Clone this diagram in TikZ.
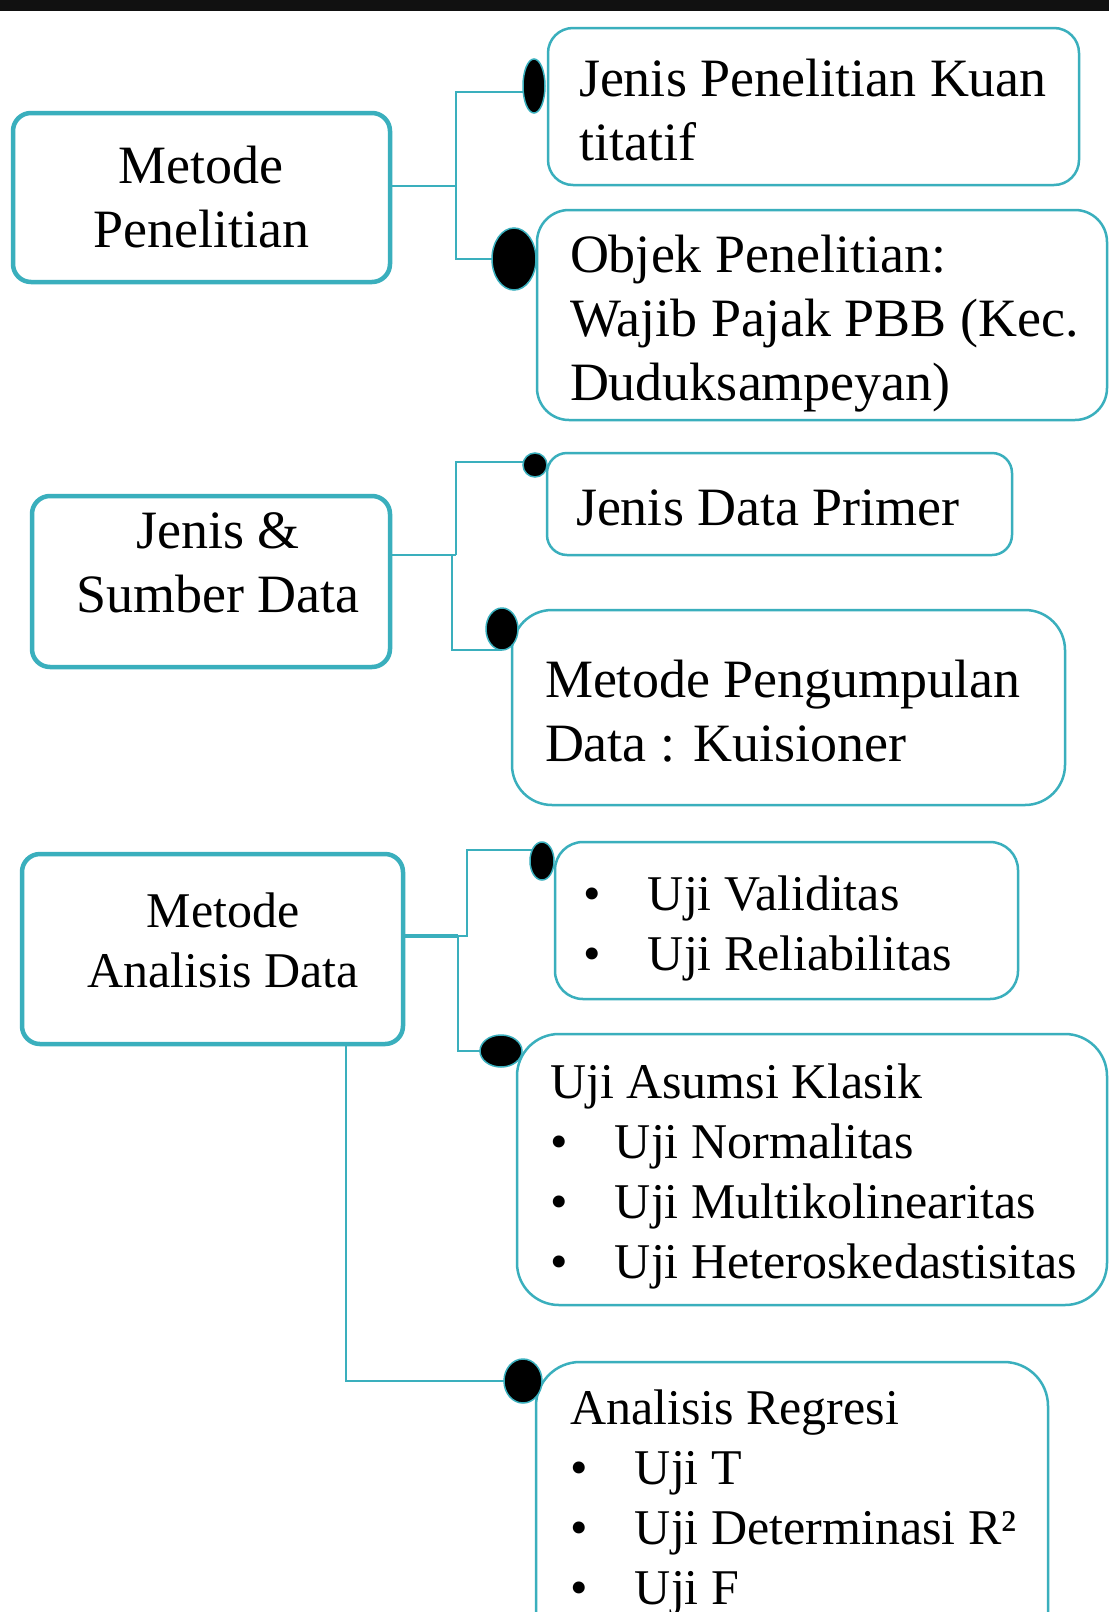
\documentclass[tikz,border=0pt]{standalone}
\usepackage{fontspec}
\setmainfont{Liberation Serif}
\usetikzlibrary{shapes.geometric}
\definecolor{tealline}{RGB}{58,175,189}
\definecolor{topbar}{RGB}{17,17,17}
\pgfdeclarelayer{paper}
\pgfdeclarelayer{bg}
\pgfsetlayers{paper,bg,main}
\newcommand{\mybul}{\makebox[65pt][l]{•}}
\begin{document}
\begin{tikzpicture}[x=1pt,y=-1pt,
  thickbox/.style={draw=tealline, line width=4.5pt, rounded corners=18pt, fill=white, inner sep=0pt, outer sep=0pt},
  thinbox/.style={draw=tealline, line width=2.5pt, fill=white, inner sep=0pt, outer sep=0pt},
  dotnode/.style={ellipse, fill=black, draw=tealline, line width=1.5pt, inner sep=0pt, outer sep=0pt},
  conn/.style={draw=tealline, line width=2.5pt},
  connthick/.style={draw=tealline, line width=4pt},
  txt/.style={inner sep=0pt, outer sep=0pt, anchor=base west},
  ctxt/.style={inner sep=0pt, outer sep=0pt, anchor=base},
  big/.style={font=\fontsize{54}{64}\selectfont},
  small/.style={font=\fontsize{50}{60}\selectfont},
]
\useasboundingbox (0,0) rectangle (1109,1612);
\clip (0,0) rectangle (1109,1612);
\begin{pgfonlayer}{paper}
\fill[white] (0,0) rectangle (1109,1612);
\end{pgfonlayer}
\fill[topbar] (0,0) rectangle (1109,11);

% boxes
\node[thickbox, minimum width=377pt, minimum height=169pt] (b1) at (201.5,197.5) {};
\node[thinbox, rounded corners=25pt, minimum width=531pt, minimum height=157pt] (b2) at (813.5,106.5) {};
\node[thinbox, rounded corners=32pt, minimum width=570pt, minimum height=210pt] (b3) at (822,315) {};
\node[thickbox, minimum width=358pt, minimum height=171pt] (b4) at (211,581.5) {};
\node[thinbox, rounded corners=20pt, minimum width=465pt, minimum height=102pt] (b5) at (779.5,504) {};
\node[thinbox, rounded corners=40pt, minimum width=553pt, minimum height=195pt] (b6) at (788.5,707.5) {};
\node[thickbox, minimum width=381pt, minimum height=190pt] (b7) at (212.5,949) {};
\node[thinbox, rounded corners=28pt, minimum width=463pt, minimum height=157pt] (b8) at (786.5,920.5) {};
\node[thinbox, rounded corners=42pt, minimum width=590pt, minimum height=271pt] (b9) at (812,1169.5) {};
\node[thinbox, rounded corners=44pt, minimum width=512pt, minimum height=298pt] (b10) at (792,1511) {};

% dots
\node[dotnode, minimum width=22pt, minimum height=54pt] (d1) at (534,86) {};
\node[dotnode, minimum width=44pt, minimum height=62pt] (d2) at (514,259) {};
\node[dotnode, minimum width=24pt, minimum height=24pt] (d3) at (535,465) {};
\node[dotnode, minimum width=32pt, minimum height=42pt] (d4) at (502,629) {};
\node[dotnode, minimum width=24pt, minimum height=38pt] (d5) at (542,861) {};
\node[dotnode, minimum width=42pt, minimum height=32pt] (d6) at (501,1051) {};
\node[dotnode, minimum width=38pt, minimum height=44pt] (d7) at (523,1381) {};

% connectors
\begin{pgfonlayer}{bg}
\draw[conn] (b1.east |- 0,186) -- (456,186);
\draw[conn] (d1.center |- 0,92) -| (456,259) -- (d2.center);
\draw[conn] (b4.east |- 0,555) -- (456,555);
\draw[conn] (d3.center |- 0,462) -| (456,555);
\draw[conn] (452,555) |- (d4.center |- 0,650);
\draw[connthick] (b7.east |- 0,936) -- (458,936);
\draw[conn] (458,936) -- (467,936) |- (d5.center |- 0,850);
\draw[conn] (458,936) |- (d6.center);
\draw[conn] (b7.south -| 346,0) |- (d7.center);
\end{pgfonlayer}

% texts
\node[ctxt,big] (t1) at (201,183) {\begin{tabular}[t]{@{}c@{}}Metode\\Penelitian\end{tabular}};
\node[txt,big] (t2) at (579,96) {\begin{tabular}[t]{@{}l@{}}Jenis Penelitian Kuan\\titatif\end{tabular}};
\node[txt,big] (t3) at (570,272) {\begin{tabular}[t]{@{}l@{}}Objek Penelitian:\\Wajib Pajak PBB (Kec.\\Duduksampeyan)\end{tabular}};
\node[ctxt,big] (t4) at (218,548) {\begin{tabular}[t]{@{}c@{}}Jenis \&\\Sumber Data\end{tabular}};
\node[txt,big] (t5) at (576,525) {Jenis Data Primer};
\node[txt,big] (t6) at (545,697) {\begin{tabular}[t]{@{}l@{}}Metode Pengumpulan\\Data : Kuisioner\end{tabular}};
\node[ctxt,small] (t7) at (223,927) {\begin{tabular}[t]{@{}c@{}}Metode\\Analisis Data\end{tabular}};
\node[txt,small] (t8) at (583,910) {\begin{tabular}[t]{@{}l@{}}\mybul Uji Validitas\\\mybul Uji Reliabilitas\end{tabular}};
\node[txt,small] (t9) at (550,1098) {\begin{tabular}[t]{@{}l@{}}Uji Asumsi Klasik\\\mybul Uji Normalitas\\\mybul Uji Multikolinearitas\\\mybul Uji Heteroskedastisitas\end{tabular}};
\node[txt,small] (t10) at (570,1424) {\begin{tabular}[t]{@{}l@{}}Analisis Regresi\\\mybul Uji T\\\mybul Uji Determinasi R²\\\mybul Uji F\end{tabular}};
\end{tikzpicture}
\end{document}
